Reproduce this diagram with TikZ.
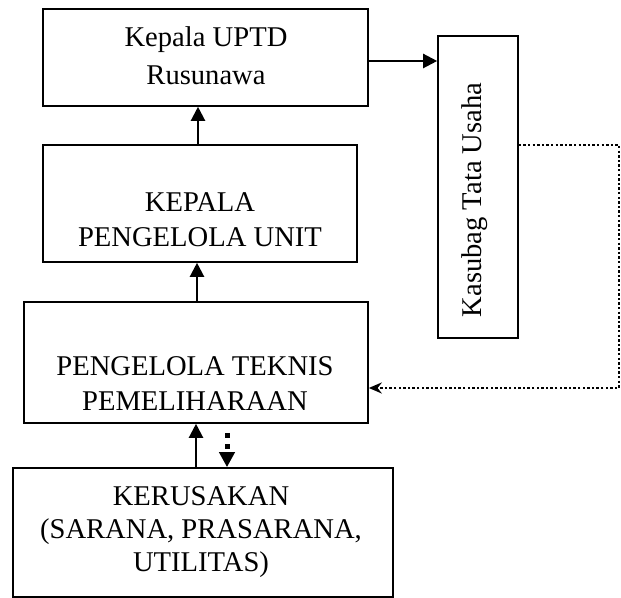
\documentclass[tikz,border=0pt]{standalone}
\usepackage{fontspec}
\setmainfont{Liberation Serif}
\usetikzlibrary{arrows.meta}
\tikzset{box/.style={draw, line width=0.8pt, inner sep=0pt},
  txt/.style={align=center, inner sep=0pt, font=\fontsize{14.3}{17.5}\selectfont},
  arr/.style={line width=1.1pt, -{Triangle[length=7pt,width=7pt]}},
  thickdots/.style={line width=2.5pt, dash pattern=on 2.5pt off 3.3pt,
      -{Triangle[length=7.5pt,width=7.5pt]}},
  thindots/.style={line width=1.2pt, dash pattern=on 1.2pt off 1.1pt,
      -{Stealth[length=6.5pt,width=5.5pt]}}}

\begin{document}
\begin{tikzpicture}[x=0.5pt,y=-0.5pt]
    \useasboundingbox (0,0) rectangle (621,598);
    % kotak
    \node[box, minimum width=162.5pt, minimum height=48.5pt] (kepala) at (205.5,57.5) {};
    \node[box, minimum width=40pt, minimum height=151pt] (kasubag) at (478,187) {};
    \node[box, minimum width=157pt, minimum height=58.5pt] (unit) at (200,203.5) {};
    \node[box, minimum width=172pt, minimum height=60.5pt] (teknis) at (196,362.5) {};
    \node[box, minimum width=190pt, minimum height=64.5pt] (rusak) at (203,532.5) {};
    % teks
    \node[txt] (kepalatxt) at (206,56) {Kepala UPTD\\[1.5pt]Rusunawa};
    \node[txt, rotate=90] (kasubagtxt) at (475,200) {Kasubag Tata Usaha};
    \node[txt] (unittxt) at (200,220) {KEPALA\\PENGELOLA UNIT};
    \node[txt] (teknistxt) at (195,383.5) {PENGELOLA TEKNIS\\PEMELIHARAAN};
    \node[txt] (rusaktxt) at (201,532) {KERUSAKAN\\[-1pt](SARANA, PRASARANA,\\[-1pt]UTILITAS)};
    % titik bantu
    \coordinate (ya) at (0,61);
    \coordinate (xa) at (198,0);
    \coordinate (xb) at (197,0);
    \coordinate (xc) at (196,0);
    \coordinate (xd) at (227,0);
    \coordinate (dr1) at (619,145);
    \coordinate (dr2) at (619,388);
    % panah
    \draw[arr] (kepala.east |- ya) -- (kasubag.west |- ya);
    \draw[arr] (unit.north -| xa) -- (kepala.south -| xa);
    \draw[arr] (teknis.north -| xb) -- (unit.south -| xb);
    \draw[arr] (rusak.north -| xc) -- (teknis.south -| xc);
    \draw[thickdots, shorten <=4.5pt] (teknis.south -| xd) -- (rusak.north -| xd);
    \draw[thindots] (kasubag.east |- dr1) -- (dr1) -- (dr2) -- (teknis.east |- dr2);
\end{tikzpicture}
\end{document}
